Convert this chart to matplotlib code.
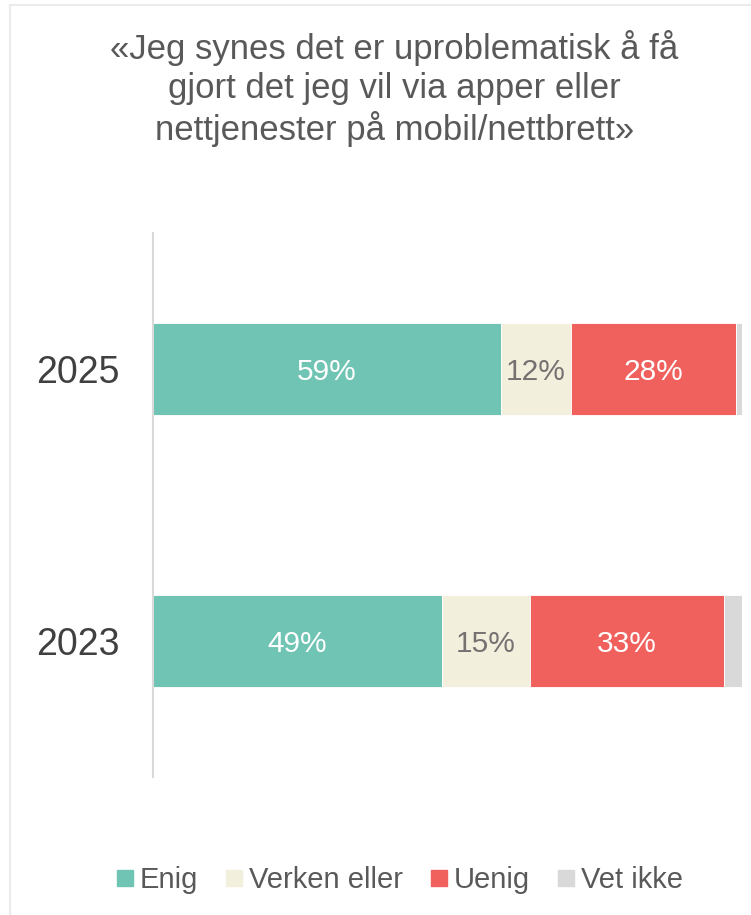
import matplotlib.pyplot as plt
from matplotlib.lines import Line2D
from matplotlib.patches import Rectangle

plt.rcParams['font.family'] = ['Liberation Sans', 'DejaVu Sans']

# data
years = ["2023", "2025"]
series = ["Enig", "Verken eller", "Uenig", "Vet ikke"]
enig = [49, 59]
verken = [15, 12]
uenig = [33, 28]
vet_ikke = [3, 1.3]
colors = ["#70C4B4", "#F2EFDD", "#F0605D", "#D9D9D9"]
label_colors = ["white", "#767171", "white", None]

title = "«Jeg synes det er uproblematisk å få\ngjort det jeg vil via apper eller\nnettjenester på mobil/nettbrett»"

fig = plt.figure(figsize=(7.51, 9.15), dpi=100)
# light frame around the chart area
fig.patches.append(Rectangle((10 / 751, -0.01), 1.0, 1 - 5 / 915 + 0.01,
                             transform=fig.transFigure, fill=False,
                             edgecolor="#EBEBEB", linewidth=1.5))

ax = fig.add_axes([153 / 751, 1 - 777 / 915, (742 - 153) / 751, (777 - 233) / 915])

values = [enig, verken, uenig, vet_ikke]
left = [0, 0]
for vals, col, lc in zip(values, colors, label_colors):
    bars = ax.barh(years, vals, left=left, height=0.34, color=col,
                   edgecolor="white", linewidth=0.6)
    if lc is not None:
        for b, v in zip(bars, vals):
            ax.text(b.get_x() + b.get_width() / 2, b.get_y() + b.get_height() / 2 - 0.01,
                    f"{v:.0f}%", ha="center", va="center", color=lc, fontsize=21.5)
    left = [l + v for l, v in zip(left, vals)]

ax.set_xlim(0, 100)
ax.set_ylim(-0.5, 1.5)
for s in ["top", "right", "bottom"]:
    ax.spines[s].set_visible(False)
ax.spines["left"].set_color("#D9D9D9")
ax.spines["left"].set_linewidth(1.5)
ax.set_xticks([])
ax.tick_params(axis="y", length=0, pad=24, labelsize=27, labelcolor="#404040")

fig.text(0.525, 1 - 30 / 915, title, ha="center", va="top", fontsize=25,
         color="#595959", linespacing=1.22)

handles = [Line2D([], [], marker="s", linestyle="none", markersize=11.5,
                  markerfacecolor=c, markeredgecolor=c) for c in colors]
fig.legend(handles, series, loc="center", bbox_to_anchor=(0.528, 1 - 880 / 915),
           ncol=4, frameon=False, fontsize=21, labelcolor="#595959",
           handletextpad=0.0, columnspacing=0.75, handlelength=1.0)

fig.savefig("out.png", dpi=100)
